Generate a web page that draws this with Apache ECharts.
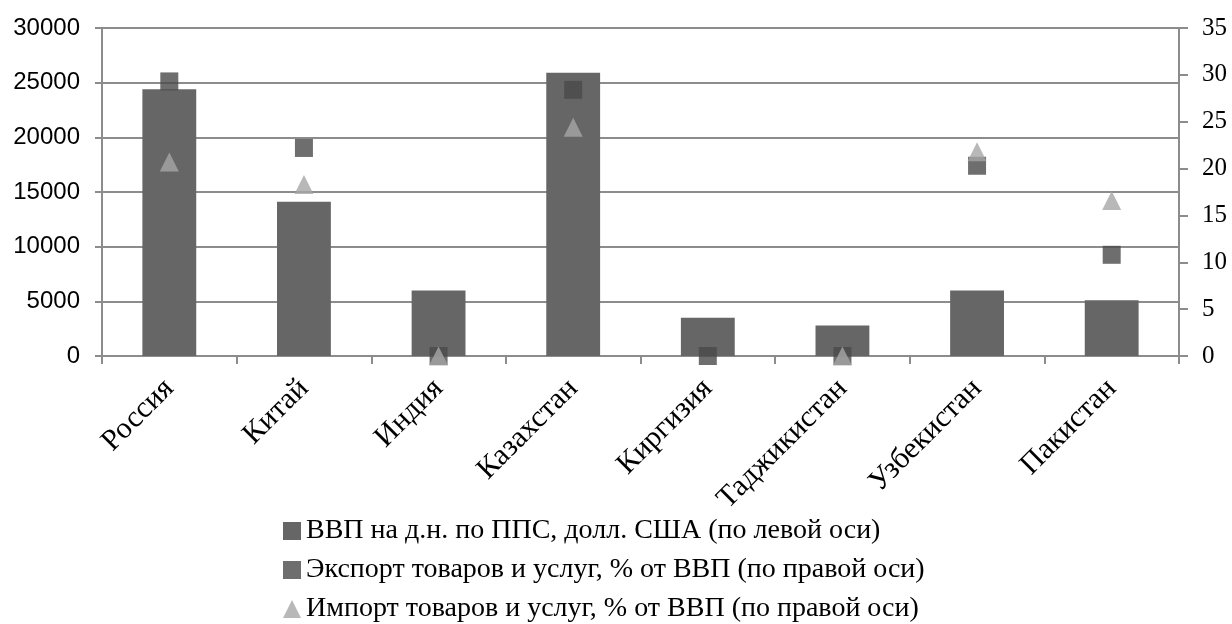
<!DOCTYPE html>
<html>
<head>
<meta charset="utf-8">
<script src="https://cdn.jsdelivr.net/npm/echarts@6/dist/echarts.min.js"></script>
<style>
html, body { margin: 0; padding: 0; background: #fff; }
#chart { width: 1232px; height: 624px; }
</style>
</head>
<body>
<div id="chart"></div>
<script>
// countries
const countries = ['Россия', 'Китай', 'Индия', 'Казахстан', 'Киргизия', 'Таджикистан', 'Узбекистан', 'Пакистан'];
// ВВП на д.н. по ППС, долл. США (left axis)
const gdpValues = [24400, 14100, 6000, 25900, 3500, 2800, 6000, 5100];
// Экспорт, % от ВВП (right axis)
const exportValues = [29.3, 22.2, 0, 28.4, 0, 0, 20.3, 10.8];
// Импорт, % от ВВП (right axis)
const importValues = [20.7, 18.3, 0, 24.4, null, 0, 21.8, 16.6];

const seriesNames = [
    'ВВП на д.н. по ППС, долл. США (по левой оси)',
    'Экспорт товаров и услуг, % от ВВП (по правой оси)',
    'Импорт товаров и услуг, % от ВВП (по правой оси)'
];

const serif = 'Liberation Serif';
const sans = 'Liberation Sans';
const axisGray = '#8c8c8c';

let chart = echarts.init(document.getElementById('chart'));

let option = {
    animation: false,
    textStyle: { fontFamily: serif },
    grid: { left: 102, right: 53, top: 28, bottom: 268 },
    legend: {
        orient: 'vertical',
        left: 278,
        top: 512,
        height: 120,
        itemWidth: 18,
        itemHeight: 18,
        itemGap: 11,
        textStyle: { fontFamily: serif, fontSize: 28, lineHeight: 28, color: '#000' },
        data: [
            { name: seriesNames[0], icon: 'rect' },
            { name: seriesNames[1], icon: 'rect' },
            { name: seriesNames[2], icon: 'triangle' }
        ]
    },
    xAxis: {
        type: 'category',
        data: countries,
        axisLine: { lineStyle: { color: axisGray, width: 2 } },
        axisTick: { show: true, length: 8, lineStyle: { color: axisGray, width: 2 } },
        axisLabel: { rotate: 45, fontSize: 30, color: '#000', margin: 28, fontFamily: serif }
    },
    yAxis: [
        {
            type: 'value',
            min: 0, max: 30000, interval: 5000,
            axisLine: { show: true, lineStyle: { color: axisGray, width: 2 } },
            axisTick: { show: true, length: 7, lineStyle: { color: axisGray, width: 2 } },
            axisLabel: {
                fontSize: 24, color: '#000', margin: 22, fontFamily: sans,
                formatter: v => String(v)
            },
            splitLine: { lineStyle: { color: axisGray, width: 2 } }
        },
        {
            type: 'value',
            min: 0, max: 35, interval: 5,
            axisLine: { show: true, lineStyle: { color: axisGray, width: 2 } },
            axisTick: { show: true, length: 9, lineStyle: { color: axisGray, width: 2 } },
            axisLabel: { fontSize: 25, color: '#000', margin: 23, fontFamily: serif },
            splitLine: { show: false }
        }
    ],
    series: [
        {
            name: seriesNames[0],
            type: 'bar',
            yAxisIndex: 0,
            barWidth: '40%',
            itemStyle: { color: '#666666' },
            data: gdpValues
        },
        {
            name: seriesNames[1],
            type: 'scatter',
            yAxisIndex: 1,
            symbol: 'rect',
            symbolSize: 18,
            itemStyle: { color: '#4a4a4a' },
            data: exportValues,
            z: 3
        },
        {
            name: seriesNames[2],
            type: 'scatter',
            yAxisIndex: 1,
            symbol: 'triangle',
            symbolSize: 19,
            itemStyle: { color: '#a6a6a6' },
            data: importValues,
            z: 4
        }
    ]
};
chart.setOption(option);

window.addEventListener('resize', () => {
    chart.resize()
})
</script>
</body>
</html>
